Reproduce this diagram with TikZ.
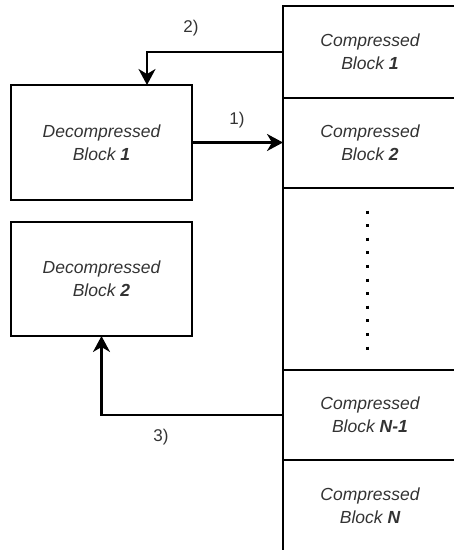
\documentclass[tikz,border=0pt]{standalone}
\usepackage{fontspec}
\setmainfont{Liberation Sans}
\usetikzlibrary{positioning,arrows.meta}

\begin{document}
\begin{tikzpicture}[x=1pt, y=-1pt, node distance=0pt, thick]
    % Styles
    \tikzstyle{dblock} = [rectangle, draw, line width=1.2pt, minimum width=181pt, minimum height=115pt, inner sep=0pt, outer sep=0pt, align=center, font=\fontsize{17.5}{23}\selectfont\itshape, text=black!80]
    \tikzstyle{cblock} = [rectangle, draw, line width=1.2pt, minimum width=174pt, minimum height=90pt, inner sep=0pt, outer sep=0pt, align=center, font=\fontsize{17.5}{23}\selectfont\itshape, text=black!80]
    \tikzstyle{arrow} = [-{Stealth[length=16pt, width=17pt, inset=5pt]}, line width=2.2pt]
    \tikzstyle{steplabel} = [font=\fontsize{17}{20}\selectfont, text=black!80, inner sep=0pt]

    \useasboundingbox (0,0) rectangle (454,550);
    \clip (0,0) rectangle (454,550);

    % Compressed column
    \node [cblock, minimum height=92pt] (c1) at (370,52) {Compressed\\Block \textbf{1}};
    \node [cblock, below=of c1] (c2) {Compressed\\Block \textbf{2}};
    \node [cblock, below=of c2, minimum height=182pt] (cdots) {};
    \node [cblock, below=of cdots] (cn1) {Compressed\\Block \textbf{N-1}};
    \node [cblock, below=of cn1, minimum height=92pt] (cn) {Compressed\\Block \textbf{N}};
    \draw [line width=3pt, dash pattern=on 3pt off 10.6pt] ([xshift=-3pt, yshift=-22.5pt]cdots.north) -- ([xshift=-3pt, yshift=20.5pt]cdots.south);

    % Decompressed blocks
    \node [dblock] (d1) at (101.5,142.5) {Decompressed\\Block \textbf{1}};
    \node [dblock, minimum height=114pt] (d2) at (101.5,279) {Decompressed\\Block \textbf{2}};

    % Steps
    \draw [arrow] (d1.east) -- (d1.east -| c2.west);
    \draw [arrow] (c1.west) -| ([xshift=45.5pt]d1.north);
    \draw [arrow] (cn1.west) -| (d2.south);

    % Labels
    \node [steplabel] (l1) at (237,120) {1)};
    \node [steplabel] (l2) at (191,28) {2)};
    \node [steplabel] (l3) at (161,437) {3)};
\end{tikzpicture}
\end{document}
